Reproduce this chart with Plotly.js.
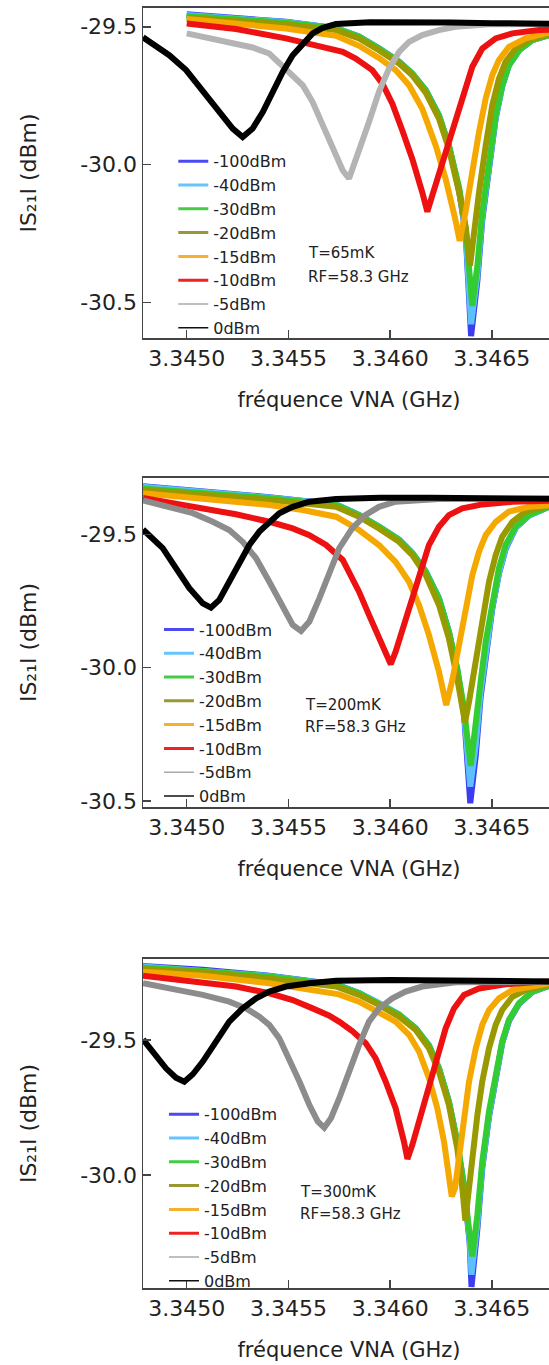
<!DOCTYPE html>
<html>
<head>
<meta charset="utf-8">
<script src="https://cdn.plot.ly/plotly-3.0.1.min.js"></script>
<style>
html, body { margin:0; padding:0; overflow:hidden; background:#fff; }
#chart { width:565px; height:1365px; }
</style>
</head>
<body>
<div id="chart"></div>
<script>
// ---------- shared labels ----------
const seriesNames = ['-100dBm','-40dBm','-30dBm','-20dBm','-15dBm','-10dBm','-5dBm','0dBm'];
const panelTemps = ['T=65mK','T=200mK','T=300mK'];
const rfLabel = 'RF=58.3 GHz';
const xTitle = 'fréquence VNA (GHz)';
const yTitle = 'IS\u2082\u2081I (dBm)';
const xTickVals = [3.3450, 3.3455, 3.3460, 3.3465];
const xTickText = ['3.3450','3.3455','3.3460','3.3465'];
const yTickVals = [-29.5, -30.0, -30.5];
const yTickText = ['-29.5','-30.0','-30.5'];

// ---------- Panel 1 : T = 65 mK ----------
const p1_m100_f = [3.345000,3.345242,3.345488,3.345734,3.345847,3.345945,3.346044,3.346109,3.346175,3.346240,3.346289,3.346339,3.346372,3.346398,3.346429,3.346453,3.346486,3.346519,3.346551,3.346584,3.346634,3.346699,3.346781,3.346950];
const p1_m100_v = [-29.455,-29.468,-29.482,-29.505,-29.535,-29.578,-29.626,-29.670,-29.730,-29.821,-29.932,-30.092,-30.255,-30.621,-30.420,-30.200,-29.995,-29.832,-29.716,-29.640,-29.585,-29.548,-29.530,-29.515];
const p1_m40_f  = [3.345000,3.345242,3.345488,3.345734,3.345847,3.345945,3.346044,3.346109,3.346175,3.346240,3.346289,3.346339,3.346372,3.346398,3.346429,3.346453,3.346486,3.346519,3.346551,3.346584,3.346634,3.346699,3.346781,3.346950];
const p1_m40_v  = [-29.457,-29.470,-29.483,-29.505,-29.535,-29.578,-29.626,-29.670,-29.730,-29.821,-29.932,-30.090,-30.250,-30.578,-30.400,-30.190,-29.990,-29.830,-29.715,-29.640,-29.585,-29.548,-29.530,-29.515];
const p1_m30_f  = [3.345000,3.345242,3.345488,3.345734,3.345847,3.345945,3.346044,3.346109,3.346175,3.346240,3.346289,3.346339,3.346372,3.346404,3.346429,3.346453,3.346486,3.346519,3.346551,3.346584,3.346634,3.346699,3.346781,3.346950];
const p1_m30_v  = [-29.461,-29.473,-29.485,-29.506,-29.536,-29.579,-29.627,-29.670,-29.730,-29.821,-29.930,-30.082,-30.233,-30.512,-30.366,-30.173,-29.979,-29.821,-29.712,-29.639,-29.585,-29.548,-29.530,-29.515];
const p1_m20_f  = [3.345000,3.345242,3.345488,3.345734,3.345847,3.345945,3.346044,3.346109,3.346175,3.346240,3.346289,3.346339,3.346372,3.346393,3.346412,3.346437,3.346470,3.346502,3.346535,3.346568,3.346617,3.346683,3.346765,3.346950];
const p1_m20_v  = [-29.467,-29.479,-29.491,-29.512,-29.542,-29.585,-29.633,-29.676,-29.739,-29.833,-29.942,-30.100,-30.227,-30.366,-30.245,-30.100,-29.930,-29.785,-29.688,-29.627,-29.579,-29.548,-29.530,-29.515];
const p1_m15_f  = [3.345000,3.345242,3.345488,3.345734,3.345847,3.345945,3.346027,3.346093,3.346158,3.346224,3.346273,3.346322,3.346342,3.346372,3.346404,3.346437,3.346470,3.346502,3.346535,3.346584,3.346666,3.346765,3.346950];
const p1_m15_v  = [-29.472,-29.488,-29.506,-29.533,-29.569,-29.613,-29.657,-29.712,-29.797,-29.930,-30.051,-30.203,-30.276,-30.167,-30.021,-29.882,-29.760,-29.676,-29.621,-29.573,-29.542,-29.524,-29.510];
const p1_m10_f  = [3.345000,3.345242,3.345488,3.345652,3.345767,3.345831,3.345912,3.345962,3.346011,3.346060,3.346109,3.346158,3.346183,3.346207,3.346257,3.346306,3.346355,3.346404,3.346453,3.346519,3.346601,3.346732,3.346950];
const p1_m10_v  = [-29.488,-29.508,-29.542,-29.569,-29.591,-29.615,-29.657,-29.706,-29.779,-29.876,-29.979,-30.100,-30.170,-30.112,-29.991,-29.869,-29.748,-29.645,-29.579,-29.542,-29.524,-29.512,-29.505];
const p1_m5_f   = [3.345000,3.345079,3.345160,3.345242,3.345324,3.345406,3.345488,3.345570,3.345619,3.345669,3.345718,3.345767,3.345798,3.345847,3.345896,3.345945,3.345995,3.346044,3.346093,3.346158,3.346240,3.346322,3.346486,3.346950];
const p1_m5_v   = [-29.524,-29.536,-29.548,-29.560,-29.575,-29.597,-29.651,-29.712,-29.773,-29.857,-29.942,-30.021,-30.050,-29.955,-29.845,-29.736,-29.651,-29.591,-29.555,-29.530,-29.512,-29.500,-29.491,-29.490];
const p1_0_f    = [3.344785,3.344914,3.344997,3.345079,3.345160,3.345226,3.345275,3.345324,3.345374,3.345423,3.345472,3.345521,3.345570,3.345619,3.345669,3.345734,3.345900,3.346100,3.346300,3.346500,3.346700,3.346950];
const p1_0_v    = [-29.538,-29.603,-29.657,-29.736,-29.809,-29.869,-29.900,-29.869,-29.809,-29.736,-29.664,-29.603,-29.560,-29.524,-29.504,-29.490,-29.484,-29.483,-29.485,-29.487,-29.489,-29.490];

// ---------- Panel 2 : T = 200 mK ----------
const p2_m100_f = [3.344785,3.345079,3.345406,3.345734,3.345847,3.345945,3.346044,3.346109,3.346175,3.346240,3.346289,3.346330,3.346363,3.346394,3.346421,3.346445,3.346470,3.346502,3.346535,3.346568,3.346617,3.346683,3.346781,3.346950];
const p2_m100_v = [-29.320,-29.338,-29.361,-29.388,-29.427,-29.471,-29.520,-29.570,-29.640,-29.740,-29.866,-30.010,-30.170,-30.508,-30.330,-30.110,-29.945,-29.780,-29.648,-29.555,-29.476,-29.430,-29.397,-29.385];
const p2_m40_f  = [3.344785,3.345079,3.345406,3.345734,3.345847,3.345945,3.346044,3.346109,3.346175,3.346240,3.346289,3.346330,3.346363,3.346394,3.346421,3.346445,3.346470,3.346502,3.346535,3.346568,3.346617,3.346683,3.346781,3.346950];
const p2_m40_v  = [-29.322,-29.339,-29.362,-29.388,-29.427,-29.471,-29.520,-29.570,-29.640,-29.740,-29.866,-30.008,-30.165,-30.446,-30.290,-30.090,-29.935,-29.775,-29.645,-29.552,-29.476,-29.430,-29.397,-29.385];
const p2_m30_f  = [3.344785,3.345079,3.345406,3.345734,3.345847,3.345945,3.346044,3.346109,3.346175,3.346240,3.346289,3.346330,3.346363,3.346396,3.346421,3.346445,3.346470,3.346502,3.346535,3.346568,3.346617,3.346683,3.346781,3.346950];
const p2_m30_v  = [-29.328,-29.343,-29.365,-29.390,-29.428,-29.472,-29.521,-29.571,-29.640,-29.740,-29.865,-30.002,-30.152,-30.368,-30.227,-30.052,-29.902,-29.753,-29.627,-29.540,-29.472,-29.428,-29.397,-29.385];
const p2_m20_f  = [3.344785,3.345079,3.345406,3.345734,3.345847,3.345945,3.346044,3.346109,3.346175,3.346240,3.346289,3.346330,3.346358,3.346368,3.346388,3.346421,3.346453,3.346486,3.346519,3.346551,3.346601,3.346666,3.346781,3.346950];
const p2_m20_v  = [-29.334,-29.350,-29.371,-29.397,-29.434,-29.478,-29.528,-29.578,-29.653,-29.765,-29.890,-30.040,-30.177,-30.205,-30.127,-29.977,-29.815,-29.678,-29.578,-29.509,-29.453,-29.415,-29.393,-29.382];
const p2_m15_f  = [3.344785,3.345079,3.345406,3.345570,3.345734,3.345847,3.345945,3.346027,3.346093,3.346142,3.346191,3.346240,3.346276,3.346306,3.346339,3.346372,3.346404,3.346437,3.346470,3.346519,3.346584,3.346683,3.346781,3.346950];
const p2_m15_v  = [-29.346,-29.365,-29.390,-29.409,-29.434,-29.484,-29.540,-29.603,-29.678,-29.765,-29.878,-30.015,-30.140,-30.046,-29.921,-29.777,-29.653,-29.565,-29.503,-29.453,-29.415,-29.397,-29.388,-29.380];
const p2_m10_f  = [3.344785,3.344997,3.345242,3.345406,3.345521,3.345603,3.345685,3.345767,3.345798,3.345847,3.345896,3.345945,3.345986,3.346003,3.346027,3.346068,3.346109,3.346150,3.346191,3.346240,3.346289,3.346355,3.346453,3.346601,3.346765,3.346950];
const p2_m10_v  = [-29.364,-29.390,-29.425,-29.453,-29.478,-29.503,-29.540,-29.596,-29.640,-29.715,-29.802,-29.890,-29.965,-29.987,-29.940,-29.840,-29.727,-29.627,-29.540,-29.472,-29.428,-29.403,-29.388,-29.378,-29.373,-29.370];
const p2_m5_f   = [3.344785,3.344914,3.345030,3.345128,3.345209,3.345275,3.345341,3.345406,3.345472,3.345521,3.345562,3.345603,3.345652,3.345701,3.345750,3.345814,3.345880,3.345945,3.346027,3.346240,3.346950];
const p2_m5_v   = [-29.373,-29.397,-29.421,-29.453,-29.484,-29.528,-29.590,-29.678,-29.777,-29.840,-29.862,-29.827,-29.740,-29.640,-29.552,-29.477,-29.427,-29.397,-29.378,-29.368,-29.366];
const p2_0_f    = [3.344785,3.344882,3.344947,3.345013,3.345079,3.345119,3.345160,3.345209,3.345258,3.345308,3.345357,3.345406,3.345455,3.345521,3.345603,3.345734,3.345950,3.346200,3.346450,3.346700,3.346950];
const p2_0_v    = [-29.482,-29.552,-29.627,-29.702,-29.759,-29.775,-29.746,-29.678,-29.603,-29.540,-29.490,-29.453,-29.421,-29.397,-29.378,-29.368,-29.363,-29.363,-29.365,-29.367,-29.368];

// ---------- Panel 3 : T = 300 mK ----------
const p3_m100_f = [3.344785,3.345079,3.345406,3.345734,3.345847,3.345945,3.346044,3.346126,3.346191,3.346240,3.346289,3.346330,3.346363,3.346391,3.346400,3.346429,3.346453,3.346486,3.346519,3.346551,3.346584,3.346634,3.346699,3.346781,3.346950];
const p3_m100_v = [-29.226,-29.240,-29.262,-29.294,-29.326,-29.363,-29.406,-29.457,-29.521,-29.605,-29.730,-29.882,-30.045,-30.250,-30.415,-30.200,-29.975,-29.785,-29.632,-29.512,-29.430,-29.366,-29.322,-29.299,-29.292];
const p3_m40_f  = [3.344785,3.345079,3.345406,3.345734,3.345847,3.345945,3.346044,3.346126,3.346191,3.346240,3.346289,3.346330,3.346363,3.346391,3.346400,3.346429,3.346453,3.346486,3.346519,3.346551,3.346584,3.346634,3.346699,3.346781,3.346950];
const p3_m40_v  = [-29.228,-29.242,-29.263,-29.295,-29.326,-29.363,-29.406,-29.457,-29.521,-29.605,-29.729,-29.880,-30.042,-30.240,-30.370,-30.180,-29.970,-29.780,-29.630,-29.510,-29.428,-29.365,-29.321,-29.299,-29.292];
const p3_m30_f  = [3.344785,3.345079,3.345406,3.345734,3.345847,3.345945,3.346044,3.346126,3.346191,3.346240,3.346289,3.346330,3.346363,3.346391,3.346404,3.346429,3.346453,3.346486,3.346519,3.346551,3.346584,3.346634,3.346699,3.346781,3.346950];
const p3_m30_v  = [-29.232,-29.244,-29.265,-29.296,-29.327,-29.364,-29.407,-29.457,-29.521,-29.605,-29.728,-29.877,-30.037,-30.222,-30.302,-30.148,-29.951,-29.765,-29.617,-29.506,-29.426,-29.364,-29.321,-29.299,-29.292];
const p3_m20_f  = [3.344785,3.345079,3.345406,3.345734,3.345847,3.345945,3.346044,3.346126,3.346191,3.346240,3.346289,3.346330,3.346355,3.346370,3.346384,3.346404,3.346429,3.346453,3.346486,3.346519,3.346551,3.346601,3.346666,3.346781,3.346950];
const p3_m20_v  = [-29.237,-29.249,-29.272,-29.302,-29.333,-29.370,-29.414,-29.463,-29.531,-29.617,-29.741,-29.901,-30.049,-30.170,-30.074,-29.926,-29.778,-29.654,-29.531,-29.444,-29.389,-29.340,-29.315,-29.296,-29.290];
const p3_m15_f  = [3.344785,3.345079,3.345406,3.345652,3.345749,3.345847,3.345945,3.346027,3.346093,3.346142,3.346191,3.346232,3.346265,3.346289,3.346303,3.346319,3.346339,3.346363,3.346388,3.346421,3.346453,3.346486,3.346535,3.346601,3.346699,3.346781,3.346950];
const p3_m15_v  = [-29.247,-29.262,-29.290,-29.321,-29.331,-29.358,-29.395,-29.432,-29.481,-29.543,-29.642,-29.753,-29.877,-29.988,-30.080,-30.049,-29.926,-29.778,-29.654,-29.531,-29.444,-29.389,-29.346,-29.315,-29.299,-29.291,-29.288];
const p3_m10_f  = [3.344785,3.344997,3.345242,3.345406,3.345521,3.345619,3.345701,3.345749,3.345814,3.345880,3.345929,3.345978,3.346027,3.346068,3.346085,3.346109,3.346150,3.346191,3.346232,3.346273,3.346314,3.346363,3.346437,3.346568,3.346732,3.346950];
const p3_m10_v  = [-29.262,-29.278,-29.302,-29.327,-29.352,-29.383,-29.410,-29.432,-29.467,-29.512,-29.568,-29.654,-29.753,-29.877,-29.941,-29.889,-29.778,-29.667,-29.556,-29.457,-29.383,-29.333,-29.309,-29.294,-29.284,-29.282];
const p3_m5_f   = [3.344785,3.344914,3.345079,3.345209,3.345292,3.345357,3.345406,3.345455,3.345504,3.345554,3.345603,3.345644,3.345676,3.345709,3.345750,3.345798,3.345847,3.345896,3.345945,3.346011,3.346076,3.346158,3.346322,3.346950];
const p3_m5_v   = [-29.290,-29.309,-29.333,-29.358,-29.383,-29.414,-29.444,-29.494,-29.568,-29.654,-29.741,-29.802,-29.825,-29.790,-29.716,-29.617,-29.519,-29.432,-29.383,-29.346,-29.321,-29.302,-29.286,-29.284];
const p3_0_f    = [3.344785,3.344849,3.344898,3.344947,3.344988,3.345030,3.345079,3.345144,3.345209,3.345275,3.345341,3.345406,3.345488,3.345603,3.345734,3.346000,3.346300,3.346600,3.346950];
const p3_0_v    = [-29.498,-29.556,-29.605,-29.640,-29.655,-29.627,-29.580,-29.506,-29.432,-29.383,-29.346,-29.321,-29.302,-29.290,-29.281,-29.278,-29.279,-29.282,-29.284];

// ---------- styling ----------
const colors = ['#3c3cf0','#5cc0ff','#33cc33','#999900','#f5a800','#ee1111', null, '#000000'];
const grayByPanel = ['#b4b4b4','#8c8c8c','#8c8c8c'];
const legendColors = ['#4a4af0','#66c4ff','#44cc44','#999933','#f5b030','#ee2222','#aaaaaa','#111111'];
const legendWidths = [3,3,3,3,3,3,1.5,1.5];

const panels = [
  [[p1_m100_f,p1_m100_v],[p1_m40_f,p1_m40_v],[p1_m30_f,p1_m30_v],[p1_m20_f,p1_m20_v],[p1_m15_f,p1_m15_v],[p1_m10_f,p1_m10_v],[p1_m5_f,p1_m5_v],[p1_0_f,p1_0_v]],
  [[p2_m100_f,p2_m100_v],[p2_m40_f,p2_m40_v],[p2_m30_f,p2_m30_v],[p2_m20_f,p2_m20_v],[p2_m15_f,p2_m15_v],[p2_m10_f,p2_m10_v],[p2_m5_f,p2_m5_v],[p2_0_f,p2_0_v]],
  [[p3_m100_f,p3_m100_v],[p3_m40_f,p3_m40_v],[p3_m30_f,p3_m30_v],[p3_m20_f,p3_m20_v],[p3_m15_f,p3_m15_v],[p3_m10_f,p3_m10_v],[p3_m5_f,p3_m5_v],[p3_0_f,p3_0_v]]
];

const FONT = 'DejaVu Sans, Verdana, sans-serif';
const TXT = '#222';
const traces = [];
panels.forEach((series, p) => {
  const ax = p === 0 ? '' : String(p + 1);
  const leg = p === 0 ? 'legend' : 'legend' + (p + 1);
  series.forEach((s, i) => {
    traces.push({
      type:'scatter', mode:'lines', x:s[0], y:s[1],
      xaxis:'x'+ax, yaxis:'y'+ax,
      line:{color: i === 6 ? grayByPanel[p] : colors[i], width:6},
      name:seriesNames[i], showlegend:false, hoverinfo:'skip'
    });
  });
  series.forEach((s, i) => {
    traces.push({
      type:'scatter', mode:'lines', x:[null], y:[null],
      xaxis:'x'+ax, yaxis:'y'+ax,
      line:{color:legendColors[i], width:legendWidths[i]},
      name:seriesNames[i], showlegend:true, legend:leg, hoverinfo:'skip'
    });
  });
});

const xRange = [3.344785, 3.3468106];
function xAxis(anchor){
  return {
    anchor:anchor, domain:[0,1], range:xRange,
    tickvals:xTickVals, ticktext:xTickText,
    ticks:'inside', ticklen:8, tickwidth:1.5, tickcolor:'#444',
    showline:true, mirror:true, linecolor:'#444', linewidth:1.5,
    showgrid:false, zeroline:false,
    tickfont:{family:FONT, size:22, color:TXT},
    title:{text:xTitle, font:{family:FONT, size:21, color:TXT}, standoff:22}
  };
}
function yAxis(anchor, domain, range, nTicks){
  return {
    anchor:anchor, domain:domain, range:range,
    tickvals:yTickVals.slice(0,nTicks), ticktext:yTickText.slice(0,nTicks),
    ticks:'inside', ticklen:8, tickwidth:1.5, tickcolor:'#444',
    showline:true, mirror:true, linecolor:'#444', linewidth:1.5,
    showgrid:false, zeroline:false,
    tickfont:{family:FONT, size:22, color:TXT},
    title:{text:yTitle, font:{family:FONT, size:22, color:TXT}, standoff:37}
  };
}
function legendAt(x, y){
  return {x:x, y:y, xanchor:'left', yanchor:'top', bgcolor:'rgba(0,0,0,0)',
          font:{family:FONT, size:16, color:TXT}, tracegroupgap:0};
}
function note(text, x, y){
  return {text:text, xref:'paper', yref:'paper', x:x, y:y, xanchor:'left', yanchor:'middle',
          showarrow:false, font:{family:FONT, size:15, color:TXT}};
}

const layout = {
  width:565, height:1365,
  margin:{l:143, r:10, t:0, b:0},
  paper_bgcolor:'#fff', plot_bgcolor:'#fff',
  font:{family:FONT, color:TXT},
  xaxis:xAxis('y'), xaxis2:xAxis('y2'), xaxis3:xAxis('y3'),
  yaxis:yAxis('x', [0.75238, 0.99414], [-30.628, -29.432], 3),
  yaxis2:yAxis('x2', [0.40879, 0.64982], [-30.522, -29.289], 3),
  yaxis3:yAxis('x3', [0.05641, 0.29744], [-30.419, -29.200], 2),
  legend:legendAt(0.0735, 0.8943),
  legend2:legendAt(0.0388, 0.5513),
  legend3:legendAt(0.0510, 0.1961),
  annotations:[
    note(panelTemps[0], 0.3950, 0.81443), note(rfLabel, 0.3950, 0.79729),
    note(panelTemps[1], 0.3883, 0.48352), note(rfLabel, 0.3883, 0.46740),
    note(panelTemps[2], 0.3762, 0.12696), note(rfLabel, 0.3762, 0.11062)
  ]
};

Plotly.newPlot('chart', traces, layout, {staticPlot:true, displayModeBar:false});
</script>
</body>
</html>
